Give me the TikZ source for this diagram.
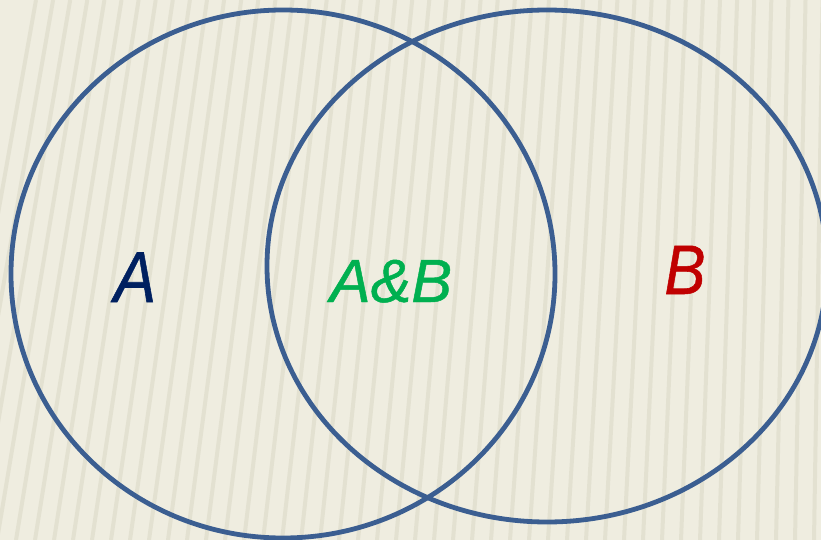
\documentclass[tikz,border=0pt]{standalone}
\usepackage{fontspec}
\setmainfont{Liberation Sans}
\newfontfamily\lblfont[FakeBold=0.8]{Liberation Sans}
\definecolor{bgc}{HTML}{EFEDE0}
\definecolor{stripec}{HTML}{E3E1D1}
\definecolor{ringc}{RGB}{59,94,145}
\definecolor{navyc}{HTML}{002060}
\definecolor{greenc}{HTML}{00B050}
\definecolor{redc}{HTML}{C00000}
\tikzset{
  ring/.style={draw=ringc, line width=4.8pt},
  stripe/.style={draw=stripec, line width=4pt},
  lbl/.style={anchor=base, inner sep=0pt}
}
\begin{document}
\begin{tikzpicture}[x=1pt,y=-1pt]
\fill[bgc] (0,0) rectangle (821,540);
\useasboundingbox (0,0) rectangle (821,540);
\begin{scope}
\clip (0,0) rectangle (821,540);
\foreach \i in {0,...,50} {
  \pgfmathsetmacro{\xb}{\i*19-60}
  \pgfmathsetmacro{\xt}{\xb+90*(1-\xb/900)}
  \draw[stripe] (\xb,540) -- (\xt,0);
}
\draw[ring] (283,274) ellipse [x radius=272, y radius=264];
\draw[ring] (547,266) ellipse [x radius=280, y radius=256];
\end{scope}
\node[lbl, text=navyc, font=\lblfont\itshape\fontsize{72}{72}\selectfont, xscale=0.88] (a) at (135,302) {A};
\node[lbl, text=greenc, font=\lblfont\itshape\fontsize{61}{61}\selectfont] (ab) at (391,302) {A\&B};
\node[lbl, text=redc, font=\lblfont\itshape\fontsize{70}{70}\selectfont, xscale=0.88] (b) at (685,294) {B};
\end{tikzpicture}
\end{document}
